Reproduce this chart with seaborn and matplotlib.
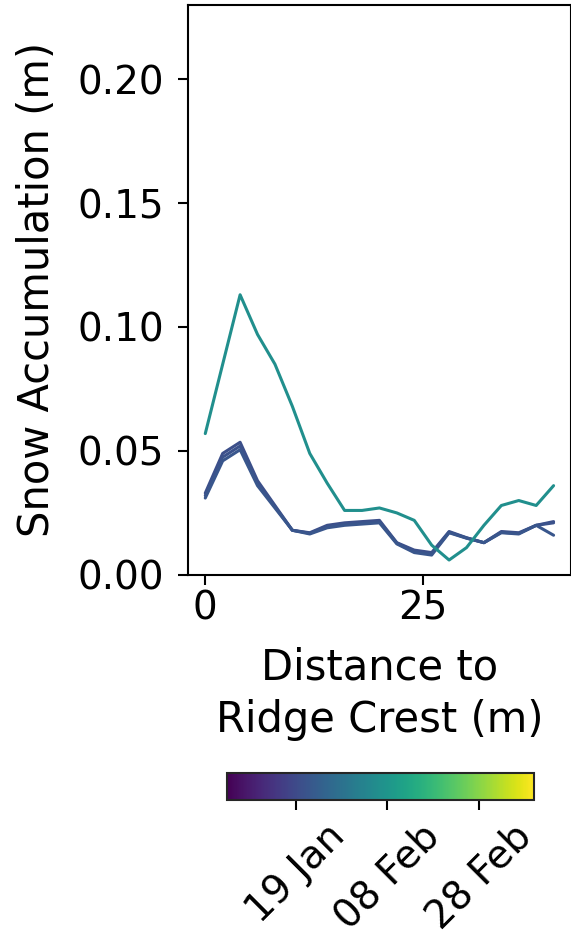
import numpy as np
import pandas as pd
import matplotlib
matplotlib.use("Agg")
import matplotlib.pyplot as plt
import matplotlib.dates as mdates
from matplotlib.colors import Normalize
from matplotlib.cm import ScalarMappable
import seaborn as sns

# Distance from the ridge crest (m)
distance = [0, 2, 4, 6, 8, 10, 12, 14, 16, 18, 20, 22, 24, 26, 28, 30, 32, 34, 36, 38, 40]

# Snow accumulation profiles (m) for each survey
survey_dates = ["2021-01-20", "2021-01-21", "2021-01-22", "2021-02-06"]
accum_jan20 = [0.033, 0.049, 0.0535, 0.038, 0.028, 0.018, 0.017, 0.020, 0.021, 0.0215, 0.022,
               0.013, 0.010, 0.009, 0.0175, 0.015, 0.013, 0.0175, 0.017, 0.020, 0.0215]
accum_jan21 = [0.032, 0.0475, 0.052, 0.037, 0.0275, 0.018, 0.0168, 0.0195, 0.0205, 0.021, 0.0215,
               0.0128, 0.0095, 0.0085, 0.0172, 0.0149, 0.013, 0.0172, 0.0167, 0.020, 0.021]
accum_jan22 = [0.031, 0.046, 0.0505, 0.036, 0.027, 0.018, 0.0165, 0.019, 0.020, 0.0205, 0.021,
               0.0125, 0.009, 0.008, 0.017, 0.0148, 0.013, 0.017, 0.0165, 0.020, 0.016]
accum_feb06 = [0.057, 0.085, 0.113, 0.097, 0.085, 0.068, 0.049, 0.037, 0.026, 0.026, 0.027,
               0.025, 0.022, 0.012, 0.006, 0.011, 0.020, 0.028, 0.030, 0.028, 0.036]

# Colour bar range and ticks
cbar_start = "2021-01-04"
cbar_end = "2021-03-12"
cbar_ticks = ["2021-01-19", "2021-02-08", "2021-02-28"]

profiles = [accum_jan20, accum_jan21, accum_jan22, accum_feb06]
frames = []
for d, vals in zip(survey_dates, profiles):
    frames.append(pd.DataFrame({
        "distance": distance,
        "accum": vals,
        "date_num": mdates.date2num(pd.Timestamp(d)),
    }))
df = pd.concat(frames, ignore_index=True)

sns.set_style("ticks")
plt.rcParams["font.family"] = ["DejaVu Sans"]
plt.rcParams["text.color"] = "black"
plt.rcParams["axes.labelcolor"] = "black"
plt.rcParams["xtick.color"] = "black"
plt.rcParams["ytick.color"] = "black"

norm = Normalize(vmin=mdates.date2num(pd.Timestamp(cbar_start)),
                 vmax=mdates.date2num(pd.Timestamp(cbar_end)))

fig = plt.figure(figsize=(5.71, 9.44), dpi=100)
ax = fig.add_axes([0.329, 0.391, 0.671, 0.604])

sns.lineplot(data=df, x="distance", y="accum", hue="date_num", palette="viridis",
             hue_norm=norm, legend=False, linewidth=2.2, ax=ax, estimator=None)

ax.set_ylim(0, 0.23)
ax.set_xlim(-2, 42)
ax.set_xticks([0, 25])
ax.set_yticks([0.0, 0.05, 0.10, 0.15, 0.20])
ax.yaxis.set_major_formatter(matplotlib.ticker.FormatStrFormatter("%.2f"))
ax.tick_params(labelsize=28, length=7, width=1.5)
ax.tick_params(axis="y", pad=10)
for s in ax.spines.values():
    s.set_linewidth(1.5)
    s.set_color("black")
ax.set_xlabel("Distance to\nRidge Crest (m)", fontsize=30, labelpad=14, linespacing=1.3)
ax.set_ylabel("Snow Accumulation (m)", fontsize=30, labelpad=14)

cax = fig.add_axes([0.3975, 0.1525, 0.5377, 0.0286])
sm = ScalarMappable(norm=norm, cmap="viridis")
cb = fig.colorbar(sm, cax=cax, orientation="horizontal")
cb.set_ticks([mdates.date2num(pd.Timestamp(t)) for t in cbar_ticks])
cb.ax.xaxis.set_major_formatter(mdates.DateFormatter("%d %b"))
cb.ax.tick_params(labelsize=28, length=7, width=1.5, rotation=45, pad=5)
cb.outline.set_linewidth(1.5)

fig.savefig("out.png", dpi=100)
